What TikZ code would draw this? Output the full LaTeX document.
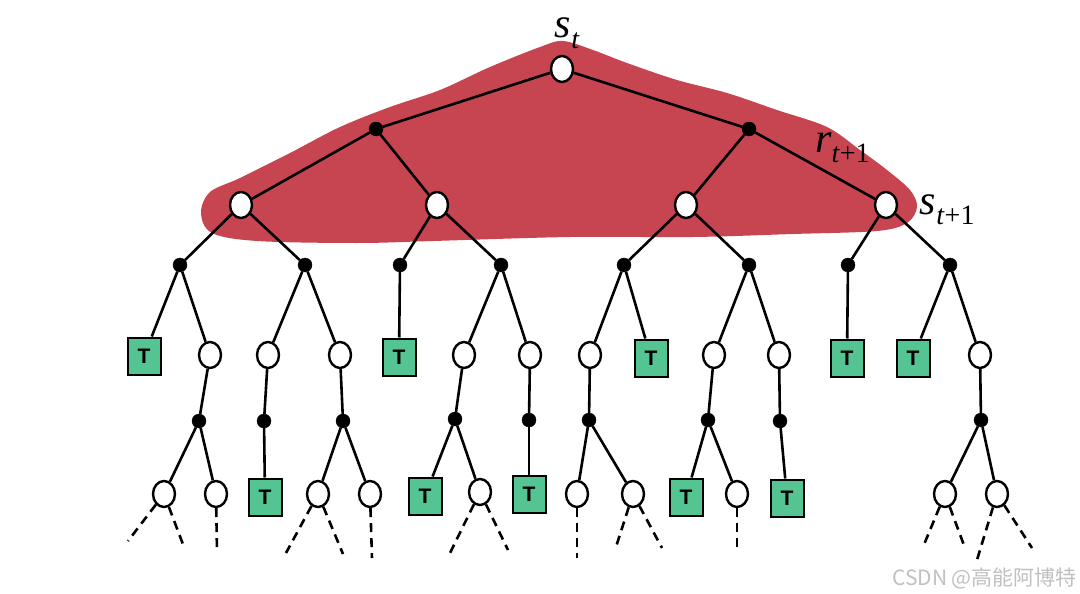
\documentclass[tikz,border=0pt]{standalone}
\usepackage{fontspec}
\setmainfont{Liberation Serif}
\newfontfamily\tsans{Liberation Sans}
\newfontfamily\cjk{Noto Sans CJK SC}
\usetikzlibrary{shapes.geometric}
\definecolor{blobred}{RGB}{199,69,81}
\definecolor{tgreen}{RGB}{84,196,146}
\definecolor{wmgray}{RGB}{192,192,192}
\newcommand{\mylbl}[3]{{\fontsize{42}{42}\selectfont\itshape #1\kern#3\raisebox{-0.26em}{\fontsize{28}{28}\selectfont #2}}}
\tikzset{
  st/.style={ellipse,draw,line width=2.4pt,fill=white,minimum width=22pt,minimum height=26pt,inner sep=0pt},
  act/.style={circle,fill=black,draw=black,minimum size=14pt,inner sep=0pt},
  term/.style={rectangle,draw,line width=2pt,fill=tgreen,minimum width=33pt,minimum height=37pt,inner sep=0pt,font=\tsans\bfseries\fontsize{21}{21}\selectfont},
  edge/.style={line width=2.6pt},
  dashline/.style={line width=2.6pt,dash pattern=on 9pt off 6pt}
}
\begin{document}
\begin{tikzpicture}[x=1pt,y=-1pt]
\useasboundingbox (0,0) rectangle (1080,594);
% blob
\fill[blobred] plot[smooth cycle,tension=0.55] coordinates {
 (201,213) (210,192) (240,178) (290,153) (340,127) (390,107) (440,90) (490,67) (540,47) (563,41)
 (593,50) (627,63) (677,80) (727,93) (777,110) (827,127) (860,150) (887,170) (910,190) (917,207)
 (907,223) (877,231) (793,234) (693,237) (570,237) (433,241) (357,243) (257,241) (212,233)};
% labels
\node[anchor=base west,inner sep=0pt] (lst) at (554,38) {\mylbl{s}{t}{0.02em}};
\node[anchor=base west,inner sep=0pt] (lr) at (815,152) {\mylbl{r}{t\textup{+1}}{0em}};
\node[anchor=base west,inner sep=0pt] (ls) at (919,214) {\mylbl{s}{t\textup{+1}}{0.02em}};
% level 0/1
\node[st] (r) at (562,69) {};
\node[act] (a1) at (376,129) {};
\node[act] (a2) at (749,129) {};
\node[st] (s1) at (241,205) {};
\node[st] (s2) at (437,205) {};
\node[st] (s3) at (686,205) {};
\node[st] (s4) at (886,205) {};
% level 2 actions
\foreach \n/\x in {b1/180,b2/305,b3/400,b4/501,b5/624,b6/749,b7/848,b8/950}
  \node[act] (\n) at (\x,265) {};
% level 2 results
\node[term] (t1) at (144,356) {T};
\node[st] (u1) at (210,355) {};
\node[st] (u2) at (268,355) {};
\node[st] (u3) at (340,355) {};
\node[term] (t2) at (399,357) {T};
\node[st] (u4) at (464,355) {};
\node[st] (u5) at (530,355) {};
\node[st] (u6) at (590,355) {};
\node[term] (t3) at (651,358) {T};
\node[st] (u7) at (714,355) {};
\node[st] (u8) at (779,355) {};
\node[term] (t4) at (847,358) {T};
\node[term] (t5) at (913,358) {T};
\node[st] (u9) at (980,355) {};
% level 3 actions
\node[act] (c1) at (199,421) {};
\node[act] (c2) at (264,421) {};
\node[act] (c3) at (343,421) {};
\node[act] (c4) at (455,419) {};
\node[act] (c5) at (529,420) {};
\node[act] (c6) at (589,420) {};
\node[act] (c7) at (708,420) {};
\node[act] (c8) at (780,421) {};
\node[act] (c9) at (981,420) {};
% level 3 results
\node[st] (v1) at (164,494) {};
\node[st] (v2) at (216,494) {};
\node[term] (t6) at (265,497) {T};
\node[st] (v3) at (318,494) {};
\node[st] (v4) at (370,494) {};
\node[term] (t7) at (425,496) {T};
\node[st] (v5) at (480,492) {};
\node[term] (t8) at (529,494) {T};
\node[st] (v6) at (577,494) {};
\node[st] (v7) at (633,494) {};
\node[term] (t9) at (686,497) {T};
\node[st] (v8) at (737,494) {};
\node[term] (t10) at (787,498) {T};
\node[st] (v9) at (945,494) {};
\node[st] (v10) at (997,494) {};
% edges
\foreach \a/\b in {r/a1,r/a2,a1/s1,a1/s2,a2/s3,a2/s4,
  s1/b1,s1/b2,s2/b3,s2/b4,s3/b5,s3/b6,s4/b7,s4/b8,
  b1/t1,b1/u1,b2/u2,b2/u3,b3/t2,b4/u4,b4/u5,b5/u6,b5/t3,b6/u7,b6/u8,b7/t4,b8/t5,b8/u9,
  u1/c1,u2/c2,u3/c3,u4/c4,u5/c5,u6/c6,u7/c7,u8/c8,u9/c9,
  c1/v1,c1/v2,c2/t6,c3/v3,c3/v4,c4/t7,c4/v5,c5/t8,c6/v6,c6/v7,c7/t9,c7/v8,c8/t10,c9/v9,c9/v10}
  \draw[edge] (\a) -- (\b);
% dashed continuations
\foreach \s/\n/\x/\y in {v1/e1/128/541,v1/e2/184/547,v2/e3/217/552,v3/e4/286/553,v3/e5/343/554,
  v4/e6/372/558,v5/e7/450/553,v5/e8/508/550,v6/e9/577/558,v7/e10/615/550,v7/e11/662/548,
  v8/e12/737/550,v9/e13/923/547,v9/e14/965/548,v10/e15/977/560,v10/e16/1032/548}
  {\coordinate (\n) at (\x,\y);
   \draw[dashline] (\s) -- (\n);}
% watermark
\node[anchor=east,text=wmgray,font=\cjk\fontsize{21}{21}\selectfont,inner sep=0pt] (wm) at (1077,578) {CSDN @高能阿博特};
\end{tikzpicture}
\end{document}
